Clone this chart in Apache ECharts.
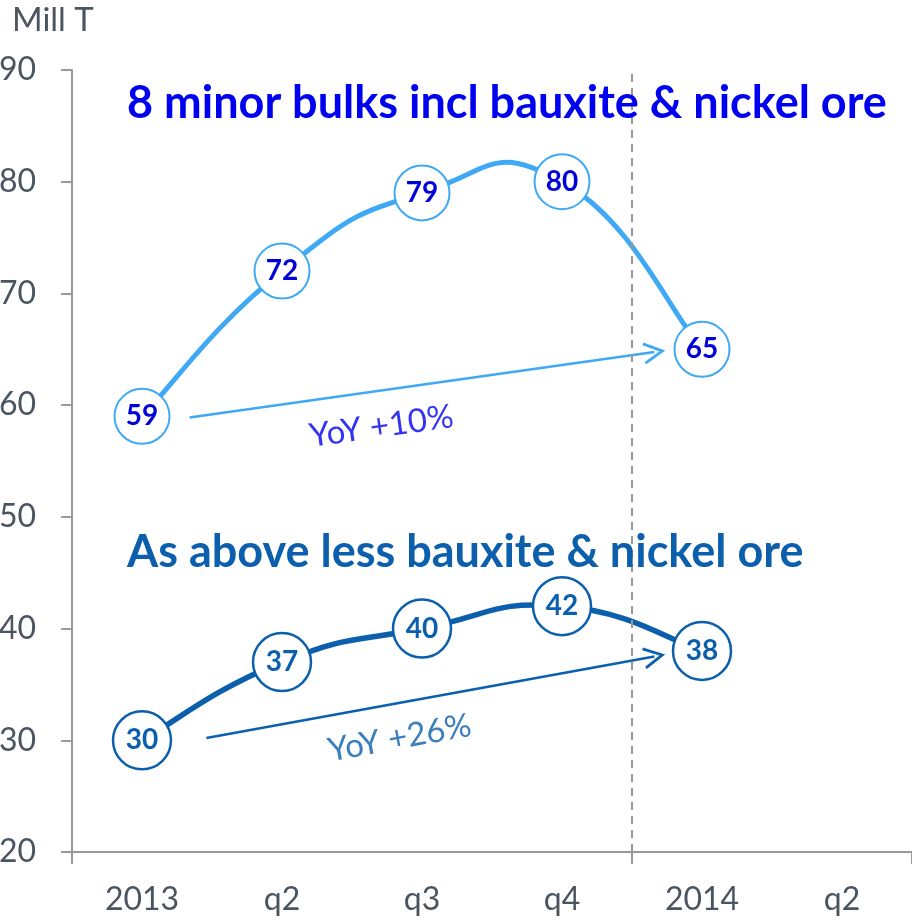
<!DOCTYPE html>
<html>
<head>
<meta charset="utf-8">
<script src="https://cdn.jsdelivr.net/npm/echarts@6/dist/echarts.min.js"></script>
<style>
  html, body { margin: 0; padding: 0; background: #fff; }
  #chart { width: 912px; height: 920px; }
</style>
</head>
<body>
<div id="chart"></div>
<script>
// quarters on the x axis
const categories = ['2013', 'q2', 'q3', 'q4', '2014', 'q2']
// million tonnes
const minorBulks = [59, 72, 79, 80, 65]
const lessBauxNickel = [30, 37, 40, 42, 38]
const yTicks = { min: 20, max: 90, interval: 10 }

// YoY arrows, in (category position, value)
const arrowUpper = [[0.34, 58.9], [3.66, 64.75]]
const arrowLower = [[0.46, 30.2], [3.66, 37.5]]
const yoyUpper = ['YoY +10%', 1.71, 58.1]
const yoyLower = ['YoY +26%', 1.84, 30.2]
const yearBreak = 3.5

const lightBlue = '#3fa9f5'
const darkBlue = '#0b5fad'
const pureBlue = '#0000f0'
const grey = '#4a5560'
const font = 'Lato'

const chevron = 'path://M5,0 L10,9 L8.8,9.6 L5,2.6 L1.2,9.6 L0,9 Z'

// excel-like smoothed line (catmull-rom), drawn segment by segment from the data
function smoothLine(values, color, width) {
    return {
        type: 'custom',
        xAxisIndex: 0,
        data: values.slice(0, -1).map(function (v, i) { return [i, v] }),
        encode: { x: 0, y: 1 },
        z: 2,
        silent: true,
        renderItem: function (params, api) {
            var i = params.dataIndex
            var n = values.length
            function pt(k) {
                k = Math.max(0, Math.min(n - 1, k))
                return api.coord([k, values[k]])
            }
            var p0 = pt(i - 1), p1 = pt(i), p2 = pt(i + 1), p3 = pt(i + 2)
            var t = 0.25
            return {
                type: 'bezierCurve',
                shape: {
                    x1: p1[0], y1: p1[1], x2: p2[0], y2: p2[1],
                    cpx1: p1[0] + (p2[0] - p0[0]) * t, cpy1: p1[1] + (p2[1] - p0[1]) * t,
                    cpx2: p2[0] - (p3[0] - p1[0]) * t, cpy2: p2[1] - (p3[1] - p1[1]) * t,
                },
                style: { stroke: color, lineWidth: width, fill: null, lineCap: 'round' },
            }
        },
    }
}

var myChart = echarts.init(document.getElementById('chart'))
var option = {
    animation: false,
    textStyle: { fontFamily: font },
    title: [
        {
            text: 'Mill T',
            left: 12, top: 4, padding: 0,
            textStyle: { fontFamily: font, fontSize: 33, fontWeight: 'normal', color: grey },
        },
        {
            text: '8 minor bulks incl bauxite & nickel ore',
            left: 127, top: 81, padding: 0,
            textStyle: { fontFamily: font, fontSize: 45, fontWeight: 'bold', color: pureBlue },
        },
        {
            text: 'As above less bauxite & nickel ore',
            left: 127, top: 530, padding: 0,
            textStyle: { fontFamily: font, fontSize: 45, fontWeight: 'bold', color: darkBlue },
        },
    ],
    grid: { left: 72, right: 0, top: 70, bottom: 68, containLabel: false, outerBoundsMode: 'none' },
    xAxis: [
        {
            type: 'category',
            data: categories,
            boundaryGap: true,
            axisLine: { lineStyle: { color: '#999', width: 2 } },
            axisTick: {
                show: true, length: 12,
                interval: function (i) { return i === 0 || i === 4 },
                lineStyle: { color: '#999', width: 2 },
            },
            axisLabel: { color: grey, fontSize: 32, margin: 32, fontFamily: font },
            splitLine: { show: false },
        },
        {
            type: 'value', min: -0.5, max: 5.5, show: false,
        },
    ],
    yAxis: {
        type: 'value',
        min: yTicks.min, max: yTicks.max, interval: yTicks.interval,
        axisLine: { show: true, onZero: false, lineStyle: { color: '#999', width: 2 } },
        axisTick: { show: true, length: 11, lineStyle: { color: '#999', width: 2 } },
        axisLabel: { color: grey, fontSize: 32, margin: 36, fontFamily: font },
        splitLine: { show: false },
    },
    series: [
        {
            type: 'line',
            xAxisIndex: 1,
            data: [],
            markLine: {
                silent: true,
                symbol: 'none',
                label: { show: false },
                lineStyle: { color: '#999', type: [8, 6], width: 2 },
                data: [{ xAxis: yearBreak }],
            },
        },
        smoothLine(minorBulks, lightBlue, 5),
        smoothLine(lessBauxNickel, darkBlue, 5.5),
        {
            name: 'minor bulks',
            type: 'line',
            data: minorBulks,
            lineStyle: { opacity: 0 },
            symbol: 'circle',
            symbolSize: 55,
            itemStyle: { color: '#fff', borderColor: lightBlue, borderWidth: 2 },
            label: {
                show: true, position: 'inside',
                color: '#0000d8', fontSize: 28, fontWeight: 'bold', fontFamily: font,
            },
            z: 4,
        },
        {
            name: 'less bauxite & nickel',
            type: 'line',
            data: lessBauxNickel,
            lineStyle: { opacity: 0 },
            symbol: 'circle',
            symbolSize: 58,
            itemStyle: { color: '#fff', borderColor: darkBlue, borderWidth: 2.5 },
            label: {
                show: true, position: 'inside',
                color: darkBlue, fontSize: 28, fontWeight: 'bold', fontFamily: font,
            },
            z: 4,
        },
        {
            type: 'lines',
            coordinateSystem: 'cartesian2d',
            xAxisIndex: 1,
            symbol: ['none', chevron],
            symbolSize: 22,
            lineStyle: { width: 2.5, opacity: 1 },
            data: [
                { coords: arrowUpper, lineStyle: { color: lightBlue }, itemStyle: { color: lightBlue } },
                { coords: arrowLower, lineStyle: { color: darkBlue }, itemStyle: { color: darkBlue } },
            ],
            z: 2,
        },
        {
            type: 'scatter',
            xAxisIndex: 1,
            symbolSize: 0,
            data: [
                {
                    value: [yoyUpper[1], yoyUpper[2]],
                    label: { formatter: yoyUpper[0], color: pureBlue, rotate: 8 },
                },
                {
                    value: [yoyLower[1], yoyLower[2]],
                    label: { formatter: yoyLower[0], color: darkBlue, rotate: 10.4 },
                },
            ],
            label: { show: true, position: 'inside', fontSize: 33, fontFamily: font },
        },
    ],
}
myChart.setOption(option)
</script>
</body>
</html>
